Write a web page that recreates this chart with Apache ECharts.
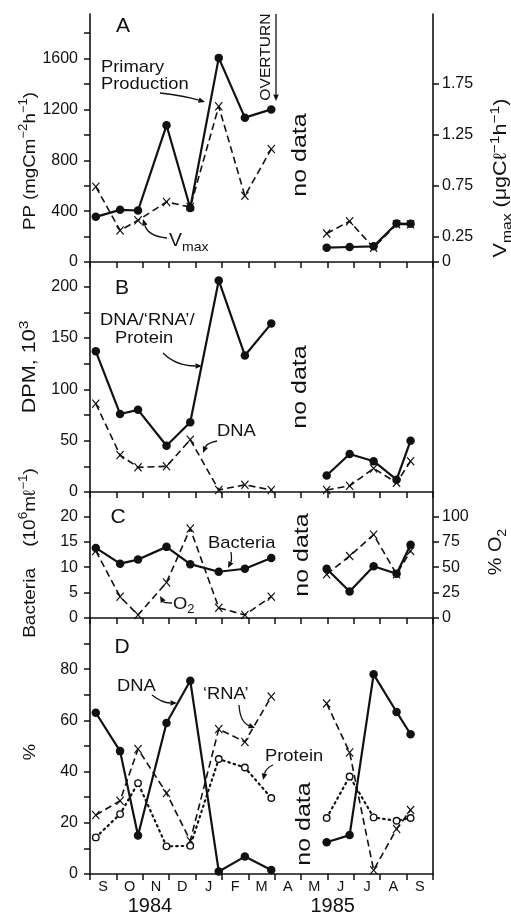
<!DOCTYPE html>
<html>
<head>
<meta charset="utf-8">
<script src="https://cdn.jsdelivr.net/npm/echarts@6/dist/echarts.min.js"></script>
<style>
html,body{margin:0;padding:0;background:#fff;}
#chart{width:511px;height:916px;}
</style>
</head>
<body>
<div id="chart"></div>
<script>
// ---- data (x = months since 1 Sep 1984) ----
const monthLabels = ['S','O','N','D','J','F','M','A','M','J','J','A','S'];
const years = ['1984', '1985'];
const yearPos = [2.27, 9.2];
const date1984 = [0.22, 1.14, 1.82, 2.90, 3.80, 4.88, 5.87, 6.87];
const date1985 = [8.97, 9.84, 10.75, 11.62, 12.15];

// Panel A
const pp1984 = [355, 410, 405, 1075, 425, 1605, 1135, 1200];
const pp1985 = [113, 118, 123, 302, 300];
const vmax1984 = [0.74, 0.31, 0.41, 0.59, 0.54, 1.53, 0.65, 1.11];
const vmax1985 = [0.28, 0.40, 0.14, 0.37, 0.37];
// Panel B (DPM, 10^3)
const total1984 = [137, 76, 80, 45, 68, 206, 133, 164];
const total1985 = [16, 37, 30, 12, 50];
const dnaB1984 = [86, 36, 24, 25, 51, 2, 7, 2];
const dnaB1985 = [2, 6, 23, 9, 30];
// Panel C
const bact1984 = [13.8, 10.7, 11.5, 14.0, 10.6, 9.1, 9.7, 11.8];
const bact1985 = [9.7, 5.2, 10.2, 8.7, 14.4];
const o2_1984 = [66, 21, 3, 35, 88, 10, 3, 21];
const o2_1985 = [43, 61, 82, 43, 66];
// Panel D (%)
const dnaD1984 = [63, 48, 15, 59, 75.5, 1, 6.8, 1.6];
const dnaD1985 = [12.4, 15.2, 78, 63.3, 54.6];
const rna1984 = [23, 28.6, 48.8, 31.6, 13, 56.6, 51.6, 69.3];
const rna1985 = [66.6, 47.5, 1.5, 17.6, 25];
const prot1984 = [14.3, 23.4, 35.5, 10.8, 11, 44.9, 41.6, 29.7];
const prot1985 = [21.9, 38.1, 22.1, 20.8, 21.9];

// tick values
const ppTicks = [0,200,400,600,800,1000,1200,1400,1600,1800];
const ppLabels = [0,400,800,1200,1600];
const vmaxTicks = [0,0.25,0.75,1.25,1.75];
const dpmTicks = [0,25,50,75,100,125,150,175,200];
const dpmLabels = [0,50,100,150,200];
const bactTicks = [0,5,10,15,20];
const o2Ticks = [0,25,50,75,100];
const pctTicks = [0,10,20,30,40,50,60,70,80,90];
const pctLabels = [0,20,40,60,80];
const monthTicks = [0,1,2,3,4,5,6,7,8,9,10,11,12,13];
const monthCenters = [0.5,1.5,2.5,3.5,4.5,5.5,6.5,7.5,8.5,9.5,10.5,11.5,12.5];

// ---- styling helpers ----
const FONT = '"Liberation Sans", Arial, Helvetica, sans-serif';
const INK = '#111';
const pair = (xs, ys) => xs.map((x, i) => [x, ys[i]]);
const XSYM = 'path://M0,1L1,0L5,4L9,0L10,1L6,5L10,9L9,10L5,6L1,10L0,9L4,5Z';

function solid(gi, yi, xs, ys) {
  return {type:'line', xAxisIndex: gi, yAxisIndex: yi, data: pair(xs, ys),
    symbol:'circle', symbolSize: 8.5, itemStyle:{color:INK},
    lineStyle:{color:INK, width:2.2}, z: 3, silent:true, animation:false};
}
function dashed(gi, yi, xs, ys) {
  return {type:'line', xAxisIndex: gi, yAxisIndex: yi, data: pair(xs, ys),
    symbol: XSYM, symbolSize:[8,9], itemStyle:{color:INK},
    lineStyle:{color:INK, width:1.6, type:[7,4]}, z: 2, silent:true, animation:false};
}
function dotted(gi, yi, xs, ys) {
  return {type:'line', xAxisIndex: gi, yAxisIndex: yi, data: pair(xs, ys),
    symbol:'circle', symbolSize: 6.5, showAllSymbol:true,
    itemStyle:{color:'#fff', borderColor:INK, borderWidth:1.4},
    lineStyle:{color:INK, width:2.2, type:[1.5,4], cap:'round'}, z: 2, silent:true, animation:false};
}

const grids = [
  {left:90, right:78, top:14, height:248},
  {left:90, right:78, top:262, height:230},
  {left:90, right:78, top:492, height:126},
  {left:90, right:78, top:618, height:257}
];

function xAx(gi, withLabels) {
  return {type:'value', gridIndex: gi, min:0, max:13, position:'bottom',
    axisLine:{show:true, onZero:false, lineStyle:{color:INK, width:1.6}},
    axisTick:{show:true, customValues: monthTicks, length:6, inside:false, lineStyle:{color:INK, width:1.5}},
    axisLabel: withLabels ? {show:true, customValues: monthCenters, margin:5,
      formatter: v => monthLabels[Math.round(v - 0.5)], fontFamily:FONT, fontSize:14.5, color:INK} : {show:false},
    splitLine:{show:false}};
}
function yAx(gi, pos, max, ticks, labels, fmt) {
  return {type:'value', gridIndex: gi, min:0, max:max, position:pos,
    axisLine:{show:true, onZero:false, lineStyle:{color:INK, width:1.6}},
    axisTick:{show: !!ticks, customValues: ticks || [], length:6, lineStyle:{color:INK, width:1.5}},
    axisLabel: labels ? {show:true, customValues: labels, margin: pos==='left'?12:9,
      formatter: fmt || (v => String(v)), fontFamily:FONT, fontSize:16, color:INK} : {show:false},
    splitLine:{show:false}};
}

// annotation arrows (quadratic curve + arrowhead)
function arrow(p0, c, p1) {
  const ang = Math.atan2(p1[1]-c[1], p1[0]-c[0]);
  const L = 6.5, W = 2.8;
  const bx = p1[0] - L*Math.cos(ang), by = p1[1] - L*Math.sin(ang);
  const pts = [p1, [bx + W*Math.sin(ang), by - W*Math.cos(ang)], [bx - W*Math.sin(ang), by + W*Math.cos(ang)]];
  return [
    {type:'bezierCurve', shape:{x1:p0[0], y1:p0[1], cpx1:c[0], cpy1:c[1], x2:bx, y2:by},
      style:{stroke:INK, lineWidth:1.3, fill:null}, z:10},
    {type:'polygon', shape:{points:pts}, style:{fill:INK}, z:10}
  ];
}
function richStyles(size) {
  const small = Math.round(size * 0.72);
  return {
    n:{fontFamily:FONT, fontSize:size, fill:INK, lineHeight: Math.round(size*1.4)},
    sup:{fontFamily:FONT, fontSize:small, fill:INK, lineHeight: small, verticalAlign:'top'},
    sub:{fontFamily:FONT, fontSize:small, fill:INK, lineHeight: small, verticalAlign:'bottom'}
  };
}
function txt(x, y, text, size, opts) {
  opts = opts || {};
  return {type:'text', x:x, y:y, rotation: opts.rot || 0, scaleX: opts.sx || 1.08, z:10,
    style:{text:text, fontFamily:FONT, fontSize:size, fill:INK,
      align: opts.align || 'left', verticalAlign:'middle', rich: richStyles(size)}};
}
const R = Math.PI/2;

const graphic = [
  txt(123, 26, 'A', 21, {align:'center', sx:1}),
  txt(122, 288, 'B', 21, {align:'center', sx:1}),
  txt(118, 517, 'C', 21, {align:'center', sx:1}),
  txt(122, 647, 'D', 21, {align:'center', sx:1}),
  // axis titles
  txt(30, 161, '{n|PP (mgCm}{sup|\u22122}{n|h}{sup|\u22121}{n|)}', 17, {align:'center', rot:R, sx:1.1}),
  txt(30, 367, '{n|DPM, 10}{sup|3}', 18, {align:'center', rot:R, sx:1.2}),
  txt(30, 553, '{n|Bacteria    (10}{sup|6}{n|m\u2113}{sup|\u22121}{n|)}', 17, {align:'center', rot:R, sx:1.12}),
  txt(30, 752, '%', 17, {align:'center', rot:R}),
  txt(501, 178, '{n|V}{sub|max}{n| (\u03BCgC\u2113}{sup|\u22121}{n|h}{sup|\u22121}{n|)}', 18, {align:'center', rot:R, sx:1.2}),
  txt(496, 552, '{n|% O}{sub|2}', 18, {align:'center', rot:R, sx:1.1}),
  // no data
  txt(300, 155, 'no data', 20, {align:'center', rot:R, sx:1.25}),
  txt(300, 387, 'no data', 20, {align:'center', rot:R, sx:1.25}),
  txt(302, 555, 'no data', 20, {align:'center', rot:R, sx:1.25}),
  txt(304, 824, 'no data', 20, {align:'center', rot:R, sx:1.25}),
  // panel A labels
  txt(101, 67, 'Primary', 17),
  txt(101, 84, 'Production', 17),
  ...arrow([160, 93], [185, 96], [205, 102]),
  txt(266, 57, 'OVERTURN', 15, {align:'center', rot:R, sx:1.04}),
  ...arrow([276, 14], [276, 60], [276, 101]),
  txt(169, 241, '{n|V}{sub|max}', 18),
  ...arrow([167, 238], [148, 236], [143, 219]),
  // panel B labels
  txt(100, 320, 'DNA/\u2018RNA\u2019/', 17),
  txt(115, 338, 'Protein', 17),
  ...arrow([163, 353], [176, 366], [202, 366]),
  txt(217, 431, 'DNA', 17),
  ...arrow([217, 441], [207, 443], [203, 453]),
  // panel C labels
  txt(208, 543, 'Bacteria', 17),
  ...arrow([231, 552], [232, 560], [228, 568]),
  txt(173, 604, '{n|O}{sub|2}', 17),
  ...arrow([172, 603], [164, 603], [160, 596]),
  // panel D labels
  txt(117, 686, 'DNA', 17),
  ...arrow([152, 695], [162, 703], [177, 703]),
  txt(203, 694, '\u2018RNA\u2019', 17),
  ...arrow([239, 705], [240, 722], [255, 728]),
  txt(265, 756, 'Protein', 17),
  ...arrow([273, 765], [266, 768], [263, 780])
];

const option = {
  backgroundColor:'#fff',
  animation:false,
  grid: grids,
  xAxis: [
    xAx(0,false), xAx(1,false), xAx(2,false), xAx(3,true),
    {type:'value', gridIndex:3, min:0, max:13, position:'bottom',
      axisLine:{show:false}, axisTick:{show:false}, splitLine:{show:false},
      axisLabel:{show:true, customValues: yearPos, margin:22,
        formatter: v => years[yearPos.indexOf(v)], fontFamily:FONT, fontSize:20, color:INK}}
  ],
  yAxis: [
    yAx(0,'left',1950, ppTicks, ppLabels),
    yAx(0,'right',1950/800, vmaxTicks, vmaxTicks, v => v===0 ? '0' : v.toFixed(2)),
    yAx(1,'left',224, dpmTicks, dpmLabels),
    yAx(1,'right',224, null, null),
    yAx(2,'left',24.8, bactTicks, bactTicks),
    yAx(2,'right',124, o2Ticks, o2Ticks),
    yAx(3,'left',100, pctTicks, pctLabels),
    yAx(3,'right',100, null, null)
  ],
  series: [
    solid(0,0,date1984,pp1984), solid(0,0,date1985,pp1985),
    dashed(0,1,date1984,vmax1984), dashed(0,1,date1985,vmax1985),
    solid(1,2,date1984,total1984), solid(1,2,date1985,total1985),
    dashed(1,2,date1984,dnaB1984), dashed(1,2,date1985,dnaB1985),
    solid(2,4,date1984,bact1984), solid(2,4,date1985,bact1985),
    dashed(2,5,date1984,o2_1984), dashed(2,5,date1985,o2_1985),
    solid(3,6,date1984,dnaD1984), solid(3,6,date1985,dnaD1985),
    dashed(3,6,date1984,rna1984), dashed(3,6,date1985,rna1985),
    dotted(3,6,date1984,prot1984), dotted(3,6,date1985,prot1985)
  ],
  graphic: graphic
};
const chart = echarts.init(document.getElementById('chart'), null, {renderer:'canvas'});
chart.setOption(option);
</script>
</body>
</html>
